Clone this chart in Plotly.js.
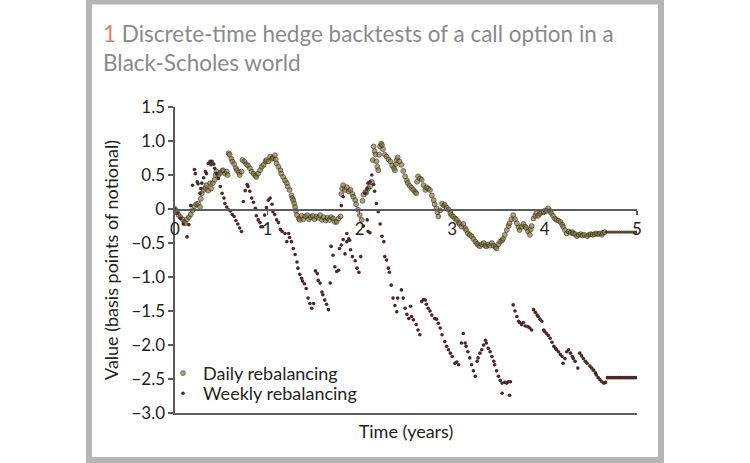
<!DOCTYPE html>
<html><head><meta charset="utf-8">
<script src="https://cdn.plot.ly/plotly-3.0.1.min.js"></script>
<style>html,body{margin:0;padding:0;background:#fff}#chart{width:750px;height:463px}</style>
</head><body><div id="chart"></div>
<script>
// ---- data ----
const dailyT = [0.00,0.02,0.04,0.06,0.08,0.10,0.11,0.13,0.15,0.17,0.19,0.21,0.23,0.25,0.27,0.28,0.29,0.31,0.33,0.34,0.36,0.38,0.39,0.41,0.43,0.44,0.45,0.47,0.49,0.51,0.52,0.54,0.56,0.57,
0.58,0.59,0.61,0.62,0.64,0.66,0.67,0.69,0.70,0.72,0.73,0.75,0.77,0.79,0.81,0.83,0.85,0.87,0.88,0.90,0.92,0.94,0.96,0.98,0.99,1.01,1.03,1.05,1.06,1.08,1.09,1.10,1.12,1.14,1.15,1.17,1.19,1.21,1.22,1.24,1.26,1.27,1.28,1.29,1.30,1.31,1.32,1.34,1.35,
1.37,1.39,1.41,1.43,1.45,1.47,1.49,1.51,1.53,1.55,1.57,1.59,1.61,1.63,1.65,1.67,1.69,1.71,1.73,1.75,1.77,1.79,
1.80,1.81,1.82,1.84,1.86,1.88,1.90,1.92,1.93,1.95,1.96,1.98,2.00,2.02,
2.03,2.04,2.06,2.07,2.09,2.11,2.13,2.14,2.15,2.16,2.17,2.18,2.19,2.20,2.21,2.22,2.23,2.24,2.25,2.27,2.29,2.31,2.33,2.35,2.37,2.38,2.39,2.40,2.41,2.43,2.45,2.47,2.49,2.51,2.52,2.54,2.56,2.58,2.60,2.61,
2.62,2.63,2.65,2.67,2.69,2.71,2.72,2.74,2.76,2.78,2.80,2.81,2.83,2.84,2.85,2.87,2.89,2.91,2.92,2.94,2.96,2.98,2.99,3.01,3.03,3.05,3.07,3.08,3.10,3.12,3.14,3.15,3.17,3.19,3.21,3.23,3.25,3.27,3.28,3.30,
3.32,3.34,3.36,3.37,3.39,3.41,3.43,3.45,3.47,3.48,3.50,3.52,3.54,3.55,3.57,3.59,3.61,3.62,3.64,3.66,3.68,3.70,3.72,3.73,3.75,3.77,3.79,3.80,3.82,3.84,3.85,3.86,3.88,3.90,3.91,3.93,3.95,3.97,3.99,
4.01,4.02,4.04,4.06,4.07,4.09,4.11,4.13,4.15,4.17,4.19,4.20,4.22,4.24,4.26,4.28,4.30,4.31,4.33,4.35,4.37,4.39,4.41,4.43,4.46,4.48,4.50,4.52,4.54,4.56,4.58,4.60,4.62,4.63,
4.65,4.67,4.69,4.71,4.73,4.75,4.77,4.79,4.81,4.83,4.85,4.87,4.89,4.91,4.93,4.95,4.97,4.99,5.00];
const dailyV = [0.00,-0.04,-0.09,-0.12,-0.15,-0.19,-0.21,-0.15,-0.12,-0.08,-0.02,0.04,0.07,0.08,0.03,0.15,0.23,0.28,0.31,0.35,0.27,0.38,0.30,0.38,0.43,0.50,0.55,0.50,0.53,0.56,0.57,0.52,0.55,0.50,
0.82,0.80,0.74,0.70,0.66,0.60,0.57,0.54,0.50,0.55,0.72,0.70,0.66,0.64,0.60,0.55,0.52,0.49,0.47,0.52,0.57,0.62,0.65,0.70,0.72,0.70,0.77,0.74,0.75,0.79,0.73,0.67,0.62,0.57,0.52,0.47,0.42,0.38,0.33,0.28,0.20,0.16,0.13,0.08,0.03,-0.03,-0.09,-0.14,-0.16,
-0.10,-0.15,-0.11,-0.09,-0.15,-0.12,-0.10,-0.15,-0.11,-0.13,-0.09,-0.16,-0.12,-0.17,-0.13,-0.16,-0.12,-0.14,-0.19,-0.19,-0.14,-0.11,
0.22,0.30,0.35,0.28,0.32,0.26,0.28,0.22,0.18,0.13,0.07,-0.01,-0.09,-0.16,
0.12,0.21,0.25,0.24,0.30,0.33,0.40,0.72,0.92,0.85,0.80,0.70,0.62,0.57,0.80,0.92,0.96,0.94,0.88,0.80,0.77,0.73,0.70,0.64,0.60,0.57,0.66,0.72,0.76,0.70,0.65,0.56,0.48,0.42,0.38,0.34,0.31,0.28,0.25,0.23,
0.40,0.48,0.45,0.43,0.35,0.28,0.32,0.30,0.28,0.20,0.13,0.07,0.01,-0.05,-0.11,-0.02,0.08,0.05,0.06,0.02,-0.01,-0.06,-0.09,-0.11,-0.14,-0.16,-0.20,-0.22,-0.26,-0.22,-0.28,-0.31,-0.36,-0.38,-0.40,-0.44,-0.48,-0.51,-0.53,-0.55,
-0.52,-0.50,-0.54,-0.55,-0.52,-0.54,-0.50,-0.54,-0.56,-0.58,-0.52,-0.48,-0.46,-0.44,-0.38,-0.31,-0.25,-0.21,-0.15,-0.09,-0.15,-0.21,-0.27,-0.31,-0.26,-0.22,-0.26,-0.28,-0.33,-0.38,-0.30,-0.25,-0.14,-0.10,-0.06,-0.10,-0.07,-0.05,-0.04,
-0.02,-0.03,0.01,-0.03,-0.06,-0.10,-0.14,-0.16,-0.17,-0.19,-0.23,-0.26,-0.31,-0.36,-0.33,-0.35,-0.34,-0.36,-0.37,-0.40,-0.38,-0.37,-0.39,-0.38,-0.40,-0.38,-0.37,-0.38,-0.37,-0.36,-0.37,-0.36,-0.38,-0.35,
-0.34,-0.34,-0.34,-0.34,-0.34,-0.34,-0.34,-0.34,-0.34,-0.34,-0.34,-0.34,-0.34,-0.34,-0.34,-0.34,-0.34,-0.34,-0.34];

const weeklyT = [0.00,0.03,0.06,0.09,0.13,0.15,0.17,0.19,0.21,0.22,0.24,0.25,0.27,0.28,0.29,0.31,0.33,0.34,0.36,0.38,0.39,0.40,0.42,0.43,0.45,0.47,0.49,0.51,0.53,0.54,0.56,0.58,0.60,0.62,0.64,0.66,0.68,0.70,0.72,
0.74,0.76,0.78,0.79,0.81,0.83,0.85,0.87,0.88,0.90,0.92,0.93,0.95,0.97,0.99,1.01,1.03,1.05,1.06,1.08,1.10,1.12,1.14,1.16,1.19,1.21,1.23,1.24,1.26,1.28,1.30,1.32,1.33,1.35,1.37,1.38,1.40,1.42,1.44,1.46,1.48,1.50,
1.52,1.54,1.55,1.57,1.59,1.60,1.62,1.64,1.66,1.68,1.69,1.71,1.73,1.75,1.77,1.78,1.80,1.80,1.82,1.82,1.84,1.86,1.86,1.88,1.89,1.90,1.92,1.95,1.97,1.99,2.01,
2.04,2.06,2.08,2.08,2.09,2.09,2.11,2.11,2.13,2.15,2.16,2.18,2.20,2.22,2.24,2.26,2.27,2.29,2.31,2.32,2.34,2.36,2.38,2.40,2.41,2.45,2.47,2.49,2.51,2.53,2.55,2.56,2.58,2.61,2.63,2.65,
2.67,2.69,2.71,2.72,2.74,2.76,2.78,2.81,2.83,2.85,2.87,2.89,2.92,2.94,2.96,2.98,3.00,3.03,3.05,3.07,3.10,3.12,3.14,3.15,3.17,3.19,3.21,3.23,3.25,3.27,3.28,3.30,3.32,3.34,3.36,3.37,3.39,3.41,3.43,3.45,3.46,3.48,3.50,3.52,3.54,3.54,3.57,3.59,3.61,3.62,3.63,
3.66,3.68,3.70,3.72,3.73,3.75,3.77,3.79,3.82,3.84,3.86,3.88,3.90,3.92,3.93,3.95,3.97,3.99,4.00,4.02,4.04,4.06,4.08,4.10,4.12,4.13,4.15,4.17,4.19,4.20,4.22,4.24,4.26,4.28,4.30,4.31,4.33,4.36,4.38,4.40,4.42,4.44,4.46,4.49,4.51,4.53,4.55,4.56,4.58,4.60,4.62,4.64,4.66,
4.68,4.70,4.72,4.74,4.76,4.78,4.80,4.82,4.84,4.86,4.88,4.90,4.92,4.94,4.96,4.98,5.00];
const weeklyV = [0.00,-0.06,-0.14,-0.22,-0.41,-0.23,0.05,0.35,0.58,0.52,0.40,0.37,0.23,0.30,0.38,0.46,0.55,0.52,0.67,0.70,0.65,0.70,0.66,0.60,0.52,0.45,0.33,0.23,0.16,0.08,0.03,-0.01,-0.03,-0.08,-0.11,-0.17,-0.22,-0.28,-0.33,
0.11,0.27,0.36,0.33,0.26,0.16,0.10,0.01,-0.10,-0.16,-0.20,-0.26,-0.26,-0.09,0.02,0.13,0.16,0.07,-0.04,-0.08,-0.16,-0.20,-0.30,-0.33,-0.36,-0.48,-0.36,-0.42,-0.48,-0.58,-0.67,-0.78,-0.87,-0.96,-1.02,-1.06,-1.10,-1.17,-1.31,-1.39,-1.46,-1.39,
-0.91,-0.95,-1.05,-1.09,-1.22,-1.26,-1.34,-1.40,-1.48,-1.09,-0.55,-0.68,-0.85,-0.92,-0.90,-0.58,-0.53,0.05,0.18,-0.45,-0.66,-0.36,-0.48,-0.44,-0.46,-0.60,-0.70,-0.76,-0.87,-0.93,-0.70,
-0.25,0.23,-0.16,0.30,-0.33,0.38,-0.35,0.40,0.50,0.36,0.26,0.08,-0.04,-0.22,-0.40,-0.48,-0.70,-0.75,-0.87,-0.93,-1.12,-1.31,-1.42,-1.51,-1.31,-1.19,-1.31,-1.46,-1.55,-1.61,-1.43,-1.58,-1.63,-1.70,-1.78,-1.85,
-1.36,-1.33,-1.34,-1.40,-1.46,-1.50,-1.56,-1.61,-1.62,-1.68,-1.75,-1.85,-1.95,-2.02,-2.07,-2.12,-2.17,-2.27,-2.25,-2.29,-1.97,-1.83,-1.97,-2.02,-2.10,-2.19,-2.29,-2.38,-2.46,-2.24,-2.19,-2.12,-2.07,-2.00,-1.93,-1.97,-2.05,-2.10,-2.17,-2.24,-2.29,-2.38,-2.46,-2.52,-2.56,-2.71,-2.55,-2.56,-2.54,-2.74,-2.54,
-1.41,-1.50,-1.58,-1.65,-1.67,-1.70,-1.67,-1.72,-1.73,-1.75,-1.78,-1.48,-1.52,-1.56,-1.58,-1.62,-1.65,-1.78,-1.80,-1.83,-1.86,-1.90,-1.96,-2.02,-2.05,-2.07,-2.10,-2.14,-2.17,-2.27,-2.20,-2.10,-2.07,-2.12,-2.17,-2.20,-2.24,-2.34,-2.12,-2.16,-2.20,-2.24,-2.27,-2.31,-2.34,-2.37,-2.41,-2.44,-2.48,-2.51,-2.54,-2.56,-2.55,
-2.48,-2.48,-2.48,-2.48,-2.48,-2.48,-2.48,-2.48,-2.48,-2.48,-2.48,-2.48,-2.48,-2.48,-2.48,-2.48,-2.48];

const seriesNames = ['Daily rebalancing', 'Weekly rebalancing'];
const xTickVals = [0,1,2,3,4,5];
const xTickText = ['0','1','2','3','4','5'];
const yTickVals = [1.5,1.0,0.5,0,-0.5,-1.0,-1.5,-2.0,-2.5,-3.0];
const yTickText = ['1.5','1.0','0.5','0','\u22120.5','\u22121.0','\u22121.5','\u22122.0','\u22122.5','\u22123.0'];
const titleNumber = '1';
const titleText = 'Discrete-time hedge backtests of a call option in a<br>Black-Scholes world';
const xTitle = 'Time (years)';
const yTitle = 'Value (basis points of notional)';

// ---- styling ----
const xRange = [0, 5], yRange = [-3, 1.5];
const W = 750, H = 463;
const M = {l: 175, r: 113, t: 107, b: 50};
const pw = W - M.l - M.r, ph = H - M.t - M.b;
const px2paperX = p => (p - M.l) / pw;
const px2paperY = p => (H - M.b - p) / ph;

// flat tail of the daily series (no more rebalancing changes) is drawn thin and dark
let lastChange = 0;
for (let i = 1; i < dailyV.length; i++) if (dailyV[i] !== dailyV[i-1]) lastChange = i;
const dailySizes = dailyV.map((v, i) => i > lastChange ? 2.4 : 4.8);
const dailyColors = dailyV.map((v, i) => i > lastChange ? '#1c1a12' : '#8a7d3c');

const axisColor = '#5c5c5c';
const FONT = 'Lato, "Open Sans", "DejaVu Sans", sans-serif';

const traces = [
  {type: 'scatter', mode: 'markers', name: seriesNames[0], x: dailyT, y: dailyV, legend: 'legend',
   marker: {size: dailySizes, color: dailyColors, line: {color: '#342e16', width: 1}},
   hoverinfo: 'x+y'},
  {type: 'scatter', mode: 'markers', name: seriesNames[1], x: weeklyT, y: weeklyV, legend: 'legend2',
   marker: {size: 3.6, color: '#4a2828'}, hoverinfo: 'x+y'},
  {type: 'scatter', mode: 'markers', x: [], y: [], xaxis: 'x2', yaxis: 'y', showlegend: false, hoverinfo: 'skip'}
];

const zeroPos = (0 - yRange[0]) / (yRange[1] - yRange[0]);
const legendCommon = {
  xanchor: 'left', yanchor: 'top', bgcolor: 'rgba(0,0,0,0)',
  font: {family: FONT, size: 18, color: '#231f20'}, tracegroupgap: 0, itemsizing: 'trace'
};

const layout = {
  width: W, height: H,
  margin: {l: M.l, r: M.r, t: M.t, b: M.b, pad: 0},
  paper_bgcolor: '#ffffff', plot_bgcolor: 'rgba(0,0,0,0)',
  font: {family: FONT, color: '#231f20', size: 17},
  title: {
    text: '<span style="color:#d9856a">' + titleNumber + '</span> ' + titleText,
    x: 103 / W, xref: 'container', xanchor: 'left',
    y: 1 - 42 / H, yref: 'container', yanchor: 'top',
    font: {family: FONT, size: 22.5, color: '#8a8a8a'}
  },
  showlegend: true,
  legend: Object.assign({x: px2paperX(163), y: px2paperY(355)}, legendCommon),
  legend2: Object.assign({x: px2paperX(163), y: px2paperY(375)}, legendCommon),
  xaxis: {
    range: xRange, anchor: 'free', position: zeroPos,
    showline: true, linecolor: axisColor, linewidth: 1.6,
    ticks: 'outside', ticklen: 4, tickcolor: axisColor, tickwidth: 1.2,
    tickvals: xTickVals, ticktext: xTickText, tickfont: {family: FONT, size: 17, color: '#231f20'},
    showgrid: false, zeroline: false, fixedrange: true
  },
  xaxis2: {
    range: xRange, overlaying: 'x', anchor: 'y', side: 'bottom',
    showline: true, linecolor: axisColor, linewidth: 1.6,
    ticks: '', showticklabels: false, showgrid: false, zeroline: false,
    title: {text: xTitle, font: {family: FONT, size: 18, color: '#231f20'}, standoff: 12}
  },
  yaxis: {
    range: yRange, showline: true, linecolor: axisColor, linewidth: 1.6,
    ticks: 'outside', ticklen: 5, tickcolor: axisColor, tickwidth: 1.2,
    tickvals: yTickVals, ticktext: yTickText, tickfont: {family: FONT, size: 17, color: '#231f20'},
    showgrid: false, zeroline: false,
    title: {text: yTitle, font: {family: FONT, size: 18, color: '#231f20'}, standoff: 8}
  },
  shapes: [{
    type: 'rect', xref: 'paper', yref: 'paper', layer: 'below',
    x0: px2paperX(89), x1: px2paperX(661), y0: px2paperY(460), y1: px2paperY(1.5),
    line: {color: '#b5b5b5', width: 6}, fillcolor: 'rgba(0,0,0,0)'
  }]
};

Plotly.newPlot('chart', traces, layout, {displayModeBar: false, staticPlot: true});
</script>
</body></html>
